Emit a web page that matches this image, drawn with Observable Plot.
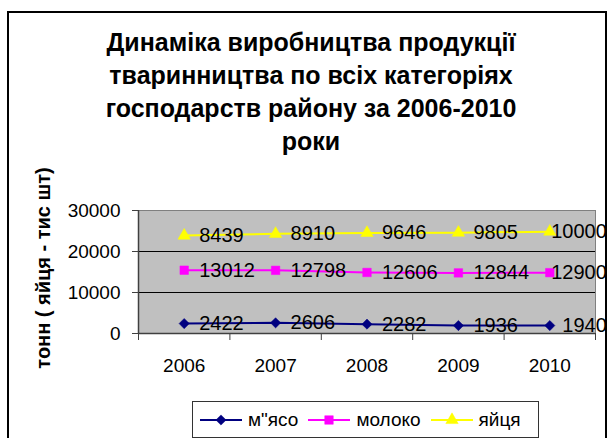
<!DOCTYPE html>
<html><head><meta charset="utf-8">
<script src="https://cdn.jsdelivr.net/npm/d3@7"></script>
<script src="https://cdn.jsdelivr.net/npm/@observablehq/plot@0.6"></script>
<style>
body{margin:0;background:#fff;font-family:Arial,"Liberation Sans",sans-serif;color:#000;}
#frame{position:absolute;left:7px;top:11px;width:596px;height:440px;border:2px solid #000;}
#title{position:absolute;left:0;top:26px;width:622px;text-align:center;font-weight:bold;font-size:25px;line-height:33px;}
#chart{position:absolute;left:0;top:160px;}
#legend{position:absolute;left:192px;top:401px;width:345px;height:35px;border:1px solid #333;background:#fff;display:flex;align-items:center;font-size:19px;}
.item{display:flex;align-items:center;}
.item svg{margin-right:6px;}
.item span{margin-right:10px;}
</style></head><body>
<div id="frame"></div>
<div id="title"></div>
<div id="chart"></div>
<div id="legend"></div>
<script>
const titleLines = ["Динаміка виробництва продукції","тваринництва по всіх категоріях","господарств району за 2006-2010","роки"];
const yLabel = "тонн ( яйця - тис шт)";
const years = ["2006","2007","2008","2009","2010"];
const meat = [2422, 2606, 2282, 1936, 1940];
const milk = [13012, 12798, 12606, 12844, 12900];
const eggs = [8439, 8910, 9646, 9805, 10000];
const seriesNames = ['м"ясо', "молоко", "яйця"];
const seriesValues = [meat, milk, eggs];
const colors = ["#000080", "#FF00FF", "#FFFF00"];
const symbols = ["diamond2", "square", "triangle"];
const symbolR = [4.6, 4.8, 4.6];
const yTicks = [0, 10000, 20000, 30000];

document.getElementById("title").innerHTML = titleLines.join("<br>");

// stacked line rows
const rows = [];
const cum = years.map(() => 0);
seriesValues.forEach((vals, s) => {
  vals.forEach((v, i) => {
    cum[i] += v;
    rows.push({s, name: seriesNames[s], i: i + 1, year: years[i], value: v, top: cum[i]});
  });
});
const centers = years.map((_, i) => i + 1);
const bounds = d3.range(0.5, years.length + 1, 1);

const marks = [
  Plot.frame({fill: "#C0C0C0", stroke: "#808080"}),
  Plot.ruleY(yTicks.slice(1, -1), {stroke: "#000"}),
  Plot.ruleX([0.5], {stroke: "#404040", strokeWidth: 1.5}),
  Plot.ruleY([0], {stroke: "#404040", strokeWidth: 1.5}),
  Plot.axisY({ticks: yTicks, tickSize: 6, tickPadding: 12, tickFormat: d3.format("d"), fontSize: 19, label: null, stroke: "#404040"}),
  Plot.axisX({ticks: bounds, tickSize: 7, tickFormat: () => "", label: null, stroke: "#404040"}),
  Plot.axisX({ticks: centers, tickSize: 0, tickPadding: 25, tickFormat: i => years[i - 1], fontSize: 19, label: null}),
  Plot.text([yLabel], {frameAnchor: "left", rotate: -90, dx: -95, dy: -4, fontWeight: "bold", fontSize: 20, textAnchor: "middle"})
];
seriesNames.forEach((n, s) => {
  const d = rows.filter(r => r.s === s);
  marks.push(Plot.line(d, {x: "i", y: "top", stroke: colors[s], strokeWidth: 2}));
  marks.push(Plot.dot(d, {x: "i", y: "top", symbol: () => symbols[s], r: symbolR[s], fill: colors[s], stroke: colors[s], strokeWidth: 0.5}));
});
marks.push(Plot.text(rows.filter(r => r.i < years.length), {x: "i", y: "top", text: d => String(d.value), textAnchor: "start", dx: 15, fontSize: 20, fill: "#000"}));
marks.push(Plot.text(rows.filter(r => r.i === years.length), {x: "i", y: "top", text: d => String(d.value), textAnchor: "end", dx: 57, fontSize: 20, fill: "#000"}));

const chart = Plot.plot({
  width: 610, height: 230,
  marginLeft: 138, marginRight: 15, marginTop: 50, marginBottom: 57,
  x: {type: "linear", domain: [0.5, years.length + 0.5]},
  y: {domain: [0, 30000]},
  style: {fontFamily: "Arial, 'Liberation Sans', sans-serif", fontSize: "19px", background: "transparent", color: "#000", overflow: "visible"},
  marks
});
document.getElementById("chart").appendChild(chart);

// legend
const legend = d3.select("#legend");
legend.append("div").style("width", "7px");
const symFns = [d3.symbolDiamond2, d3.symbolSquare, d3.symbolTriangle];
seriesNames.forEach((n, s) => {
  const it = legend.append("div").attr("class", "item");
  const sv = it.append("svg").attr("width", 42).attr("height", 20);
  sv.append("line").attr("x1", 0).attr("x2", 42).attr("y1", 10).attr("y2", 10).attr("stroke", colors[s]).attr("stroke-width", 2);
  sv.append("path").attr("transform", "translate(21,10)")
    .attr("d", d3.symbol(symFns[s], Math.PI * symbolR[s] * symbolR[s])())
    .attr("fill", colors[s]).attr("stroke", colors[s]).attr("stroke-width", 0.5);
  it.append("span").text(n);
});
</script>
</body></html>
